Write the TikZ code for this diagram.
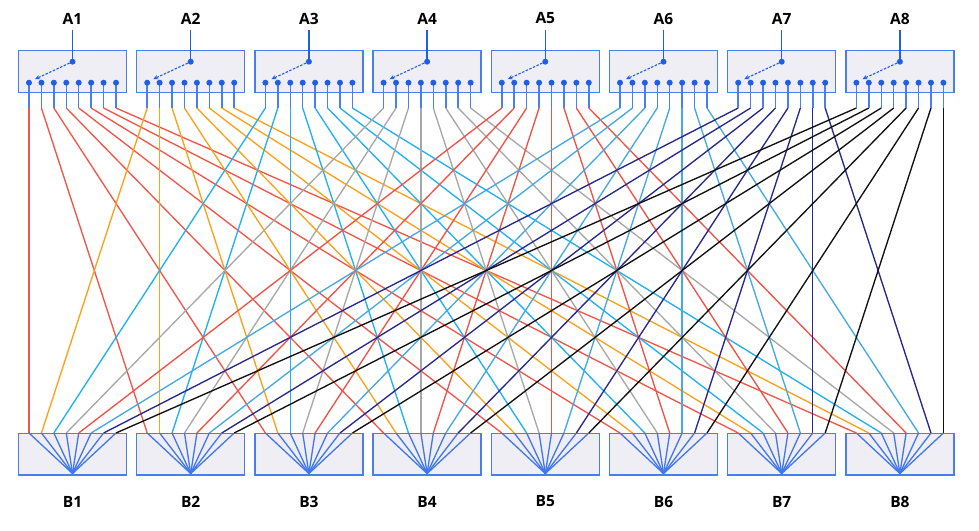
\documentclass[tikz,border=0pt]{standalone}
\usepackage{fontspec}
\setmainfont{Open Sans}
\usetikzlibrary{arrows.meta,calc}
\definecolor{boxfill}{HTML}{EEEEF4}
\definecolor{boxdraw}{HTML}{4A7FEA}
\definecolor{pinblue}{HTML}{1F5FE8}
\definecolor{segblue}{HTML}{4A7FEF}
\definecolor{c1}{HTML}{F0574C}
\definecolor{c2}{HTML}{FBA21C}
\definecolor{c3}{HTML}{21B0F2}
\definecolor{c4}{HTML}{A8A8A8}
\definecolor{c5}{HTML}{EE5348}
\definecolor{c6}{HTML}{47A9E0}
\definecolor{c7}{HTML}{28288A}
\definecolor{c8}{HTML}{111111}
\tikzset{
  unitbox/.style={draw=boxdraw, fill=boxfill, line width=1.4pt, minimum width=108pt, minimum height=41.6pt, inner sep=0pt},
  lbl/.style={font=\bfseries\fontsize{15.5}{18}\selectfont, text=black, inner sep=0pt},
  pindot/.style={circle, fill=pinblue, inner sep=0pt, minimum size=6pt},
  pinseg/.style={draw=segblue, line width=1.5pt},
  wire/.style={line width=1.35pt},
  fan/.style={draw=pinblue!85!white, line width=1.3pt},
  sel/.style={draw=pinblue, line width=1.1pt, dashed, dash pattern=on 2.5pt off 1.5pt, -{Stealth[length=5pt,width=4.5pt]}},
  stem/.style={draw=pinblue, line width=1.4pt}
}
\begin{document}
\begin{tikzpicture}[x=1pt,y=-1pt]
\useasboundingbox (0,0) rectangle (979,530);
% boxes, labels, pins
\foreach \i in {1,...,8}{
  \pgfmathsetmacro{\cx}{72.5+118.2*(\i-1)}
  \node[unitbox] (A\i) at (\cx,71.5) {};
  \node[unitbox] (B\i) at (\cx,454) {};
  \node[lbl] (LA\i) at (\cx,18.5) {A\i};
  \node[lbl] (LB\i) at (\cx,501.5) {B\i};
  \coordinate (ac\i) at (\cx,61.7);
  \coordinate (as\i) at (\cx,29.5);
  \coordinate (bc\i) at (\cx,473.5);
  \foreach \k in {1,...,8}{
    \pgfmathsetmacro{\px}{\cx+(\k-4.5)*12.43}
    \coordinate (ap\i-\k) at (\px,82.7);
    \coordinate (at\i-\k) at (\px,108);
    \coordinate (bp\i-\k) at (\px,433);
  }
  \coordinate (arr\i) at ($(ap\i-1)+(6,-3.5)$);
}
% wires: A_i pin k -> B_k pin i
\foreach \i in {1,...,8}{
  \foreach \k in {1,...,8}{
    \draw[wire, c\i] (at\i-\k) -- (bp\k-\i);
  }
}
% top pin segments and dots
\foreach \i in {1,...,8}{
  \draw[stem] (as\i) -- (ac\i);
  \node[pindot] (acd\i) at (ac\i) {};
  \draw[sel] (acd\i) -- (arr\i);
  \foreach \k in {1,...,8}{
    \draw[pinseg] (ap\i-\k) -- (at\i-\k);
    \node[pindot] (apd\i-\k) at (ap\i-\k) {};
    \draw[fan] (bp\i-\k) -- (bc\i);
  }
}
\end{tikzpicture}
\end{document}
